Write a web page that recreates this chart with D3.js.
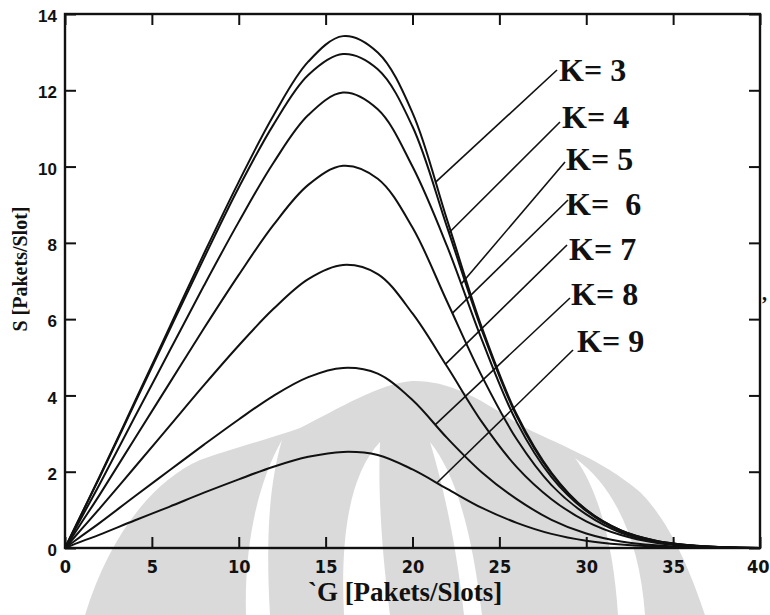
<!DOCTYPE html>
<html>
<head>
<meta charset="utf-8">
<script src="https://cdn.jsdelivr.net/npm/d3@7/dist/d3.min.js"></script>
<style>
  body { margin: 0; background: #fff; }
</style>
</head>
<body>
<div id="chart"></div>
<script>
(function () {
    const gValues = [0, 1, 2, 4, 6, 8, 10, 12, 14, 16, 18, 20, 22, 24, 26, 28, 30, 32, 34, 36, 38, 40];

    // S values for each K
    const sK3 = [0, 0.94, 1.88, 3.82, 5.77, 7.72, 9.6, 11.34, 12.75, 13.42, 12.99, 11.41, 8.59, 5.77, 3.5, 1.97, 1.0, 0.46, 0.19, 0.07, 0.02, 0];
    const sK4 = [0, 0.93, 1.86, 3.78, 5.7, 7.6, 9.45, 11.1, 12.4, 12.95, 12.55, 11.05, 8.4, 5.7, 3.45, 1.94, 1.0, 0.46, 0.19, 0.07, 0.02, 0];
    const sK5 = [0, 0.84, 1.68, 3.42, 5.15, 6.88, 8.55, 10.1, 11.35, 11.94, 11.5, 10.0, 7.9, 5.45, 3.3, 1.86, 0.97, 0.44, 0.18, 0.065, 0.02, 0];
    const sK6 = [0, 0.7, 1.4, 2.86, 4.31, 5.76, 7.16, 8.47, 9.52, 10.02, 9.68, 8.4, 6.45, 4.5, 2.85, 1.65, 0.88, 0.4, 0.165, 0.06, 0.02, 0];
    const sK7 = [0, 0.52, 1.04, 2.11, 3.19, 4.27, 5.31, 6.27, 7.05, 7.42, 7.18, 6.15, 4.75, 3.3, 2.12, 1.28, 0.7, 0.34, 0.14, 0.05, 0.015, 0];
    const sK8 = [0, 0.33, 0.66, 1.35, 2.03, 2.71, 3.37, 3.99, 4.48, 4.72, 4.57, 3.88, 2.88, 1.98, 1.28, 0.74, 0.38, 0.17, 0.07, 0.025, 0.008, 0];
    const sK9 = [0, 0.18, 0.35, 0.72, 1.08, 1.45, 1.8, 2.13, 2.39, 2.52, 2.44, 2.06, 1.55, 1.05, 0.66, 0.37, 0.19, 0.09, 0.04, 0.015, 0.005, 0];

    const kLabels = ["K= 3", "K= 4", "K= 5", "K=  6", "K= 7", "K= 8", "K= 9"];
    // G where each label's pointer line touches its curve
    const leaderG = [21.3, 22.1, 22.8, 22.3, 21.9, 21.3, 21.4];

    const xTicks = [0, 5, 10, 15, 20, 25, 30, 35, 40];
    const yTicks = [0, 2, 4, 6, 8, 10, 12, 14];

    const series = [sK3, sK4, sK5, sK6, sK7, sK8, sK9];

    // label layout (left edge / baseline) and where the pointer line starts
    const labelPos = [[559, 81], [562, 128], [566, 170], [566, 215], [569, 260], [571, 305], [577, 352]];
    const leaderStart = [[557, 70], [560, 122], [565, 162], [568, 200], [567, 245], [570, 298], [573, 350]];

    const width = 770, height = 615;
    const plot = { left: 65, right: 760, top: 14, bottom: 548 };

    const svg = d3.select("#chart")
      .append("svg")
        .attr("width", width)
        .attr("height", height);

    // faint watermark of the scanned page
    const mark = svg.append("g").attr("fill", "#dadada");
    mark.append("path")
      .attr("d", "M85,615 C108,540 150,482 200,460 C240,446 272,438 300,428 C340,408 378,384 412,381 C450,380 482,400 520,425 C556,444 600,458 640,492 C670,522 690,570 705,615 Z");
    const gaps = svg.append("g").attr("fill", "#fff");
    gaps.append("path").attr("d", "M282,440 C258,482 244,545 246,615 L270,615 C266,545 268,488 282,440 Z");
    gaps.append("path").attr("d", "M380,442 C350,474 340,535 344,615 L390,615 C381,545 378,488 380,442 Z");
    gaps.append("path").attr("d", "M430,442 C442,482 456,540 464,615 L482,615 C472,532 456,474 430,442 Z");
    gaps.append("path").attr("d", "M575,458 C600,492 614,550 618,615 L645,615 C640,540 614,486 575,458 Z");

    const x = d3.scaleLinear().domain([0, 40]).range([plot.left, plot.right]);
    const y = d3.scaleLinear().domain([0, 14]).range([plot.bottom, plot.top]);

    const tickLen = 11;

    // Bottom axis with labels
    const bottom = svg.append("g")
      .attr("transform", `translate(0,${plot.bottom})`)
      .call(d3.axisBottom(x).tickValues(xTicks).tickSizeInner(-tickLen).tickSizeOuter(0).tickPadding(12));
    bottom.selectAll("text")
      .style("font-family", "'Liberation Sans Narrow', 'DejaVu Sans Condensed', sans-serif")
      .style("font-weight", "bold")
      .style("font-size", "18px")
      .attr("fill", "#111");
    // last label sits on the page edge
    bottom.selectAll(".tick").filter(d => d === 40).select("text")
      .attr("text-anchor", "end")
      .attr("x", 9);

    // Left axis with labels
    const left = svg.append("g")
      .attr("transform", `translate(${plot.left},0)`)
      .call(d3.axisLeft(y).tickValues(yTicks).tickSizeInner(-tickLen).tickSizeOuter(0).tickPadding(8));
    left.selectAll("text")
      .attr("dy", "0.45em")
      .style("font-family", "'Liberation Sans', Arial, sans-serif")
      .style("font-weight", "bold")
      .style("font-size", "17px")
      .attr("fill", "#111");

    // Top and right axes, ticks only
    svg.append("g")
      .attr("transform", `translate(0,${plot.top})`)
      .call(d3.axisTop(x).tickValues(xTicks).tickSizeInner(-tickLen).tickSizeOuter(0).tickFormat(""));
    svg.append("g")
      .attr("transform", `translate(${plot.right},0)`)
      .call(d3.axisRight(y).tickValues(yTicks).tickSizeInner(-tickLen).tickSizeOuter(0).tickFormat(""));

    svg.selectAll(".tick line").attr("stroke", "#111").attr("stroke-width", 2);
    svg.selectAll(".domain").remove();

    // Frame
    svg.append("rect")
      .attr("x", plot.left)
      .attr("y", plot.top)
      .attr("width", plot.right - plot.left)
      .attr("height", plot.bottom - plot.top)
      .attr("fill", "none")
      .attr("stroke", "#111")
      .attr("stroke-width", 2.4);

    // Curves
    const line = d3.line()
      .x((d, i) => x(gValues[i]))
      .y(d => y(d))
      .curve(d3.curveCatmullRom.alpha(0.5));

    svg.append("g")
      .selectAll("path")
      .data(series)
      .enter()
      .append("path")
        .attr("d", line)
        .attr("fill", "none")
        .attr("stroke", "#111")
        .attr("stroke-width", 2);

    // value of a series at G (linear between read points)
    function sAt(s, g) {
        const i = Math.min(d3.bisectRight(gValues, g) - 1, gValues.length - 2);
        const t = (g - gValues[i]) / (gValues[i + 1] - gValues[i]);
        return s[i] + t * (s[i + 1] - s[i]);
    }

    // Pointer lines from labels to curves
    svg.append("g")
      .selectAll("line")
      .data(series)
      .enter()
      .append("line")
        .attr("x1", (d, i) => leaderStart[i][0])
        .attr("y1", (d, i) => leaderStart[i][1])
        .attr("x2", (d, i) => x(leaderG[i]))
        .attr("y2", (d, i) => y(sAt(d, leaderG[i])))
        .attr("stroke", "#111")
        .attr("stroke-width", 1.6);

    // Labels
    svg.append("g")
      .selectAll("text")
      .data(kLabels)
      .enter()
      .append("text")
        .attr("x", (d, i) => labelPos[i][0])
        .attr("y", (d, i) => labelPos[i][1])
        .style("white-space", "pre")
        .style("font-family", "'Liberation Serif', 'Times New Roman', serif")
        .style("font-weight", "bold")
        .style("font-size", "32px")
        .attr("fill", "#111")
        .text(d => d);

    // Axis titles
    svg.append("text")
      .attr("transform", "translate(405,601)")
      .attr("text-anchor", "middle")
      .style("font-family", "'Liberation Serif', 'Times New Roman', serif")
      .style("font-weight", "bold")
      .style("font-size", "27px")
      .attr("fill", "#111")
      .text("`G [Pakets/Slots]");

    svg.append("text")
      .attr("transform", "translate(27,269) rotate(-90)")
      .attr("text-anchor", "middle")
      .style("font-family", "'Liberation Serif', 'Times New Roman', serif")
      .style("font-weight", "bold")
      .style("font-size", "20px")
      .attr("fill", "#111")
      .text("S [Pakets/Slot]");

    // stray mark right of the frame
    svg.append("text")
      .attr("x", 762)
      .attr("y", 300)
      .style("font-family", "'Liberation Serif', serif")
      .style("font-weight", "bold")
      .style("font-size", "20px")
      .attr("fill", "#111")
      .text(",");
})();
</script>
</body>
</html>
